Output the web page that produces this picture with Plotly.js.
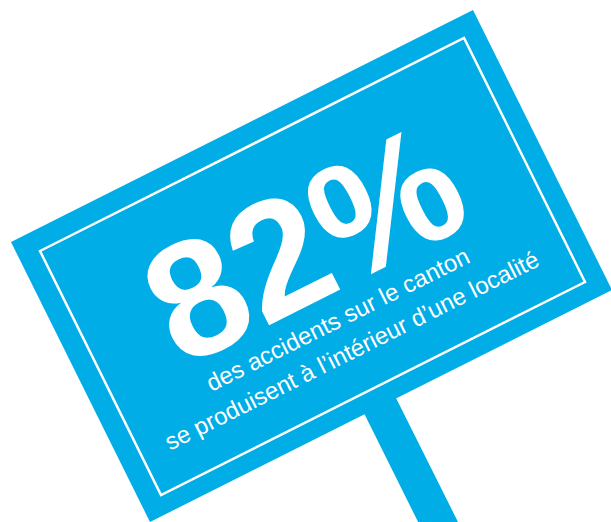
<!DOCTYPE html>
<html>
<head>
<meta charset="utf-8">
<script src="https://cdn.plot.ly/plotly-3.0.1.min.js"></script>
<style>
  html, body { margin: 0; padding: 0; background: #ffffff; }
  #chart { width: 611px; height: 522px; }
</style>
</head>
<body>
<div id="chart"></div>
<script>
// ---- data ----
var shareValue = [82];                       // percent of accidents inside a locality
var valueSuffix = ["%"];
var captionLines = [
  "des accidents sur le canton",
  "se produisent à l’intérieur d’une localité"
];

// ---- style ----
var signBlue = "rgb(0,173,230)";
var tilt = -26.6;

var layout = {
  width: 611,
  height: 522,
  margin: {l: 0, r: 0, t: 0, b: 0},
  paper_bgcolor: "#ffffff",
  plot_bgcolor: "#ffffff",
  showlegend: false,
  xaxis: {range: [0, 611], visible: false, fixedrange: true},
  yaxis: {range: [522, 0], visible: false, fixedrange: true},
  shapes: [
    // post
    {type: "path", xref: "x", yref: "y", layer: "below",
     path: "M351,387 L383,372 L478,562 L438,562 Z",
     fillcolor: signBlue, line: {width: 0}},
    // sign board
    {type: "path", xref: "x", yref: "y", layer: "below",
     path: "M11,242 L473,10 L612,290 L150,522 Z",
     fillcolor: signBlue, line: {width: 0}},
    // inner white frame
    {type: "path", xref: "x", yref: "y", layer: "below",
     path: "M40,251 L464,38 L585,282 L161,495 Z",
     fillcolor: "rgba(0,0,0,0)", line: {color: "#ffffff", width: 2.5}}
  ],
  annotations: [
    {xref: "x", yref: "y", x: 304, y: 244, showarrow: false,
     text: shareValue[0] + valueSuffix[0], textangle: tilt,
     font: {family: "Liberation Sans, Arial, sans-serif", size: 165, color: "#ffffff", weight: "bold"}},
    {xref: "x", yref: "y", x: 337, y: 319, showarrow: false,
     text: captionLines[0], textangle: tilt,
     font: {family: "Liberation Sans, Arial, sans-serif", size: 24, color: "#ffffff"}},
    {xref: "x", yref: "y", x: 351, y: 350, showarrow: false,
     text: captionLines[1], textangle: tilt,
     font: {family: "Liberation Sans, Arial, sans-serif", size: 24, color: "#ffffff"}}
  ]
};

var traces = [{type: "scatter", x: [], y: [], mode: "markers", hoverinfo: "skip"}];

Plotly.newPlot("chart", traces, layout, {staticPlot: true, displayModeBar: false});
</script>
</body>
</html>
